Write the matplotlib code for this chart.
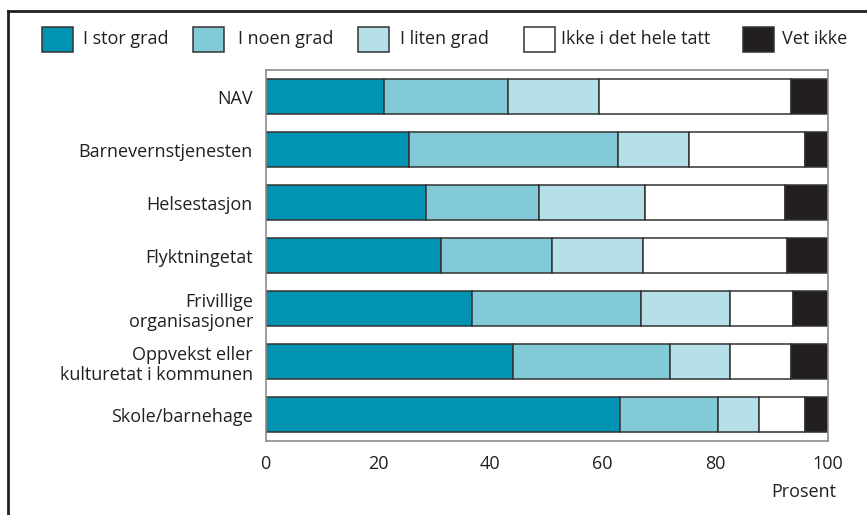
import matplotlib
matplotlib.use("Agg")
import matplotlib.pyplot as plt
from matplotlib.patches import Rectangle
from matplotlib.lines import Line2D
import numpy as np

plt.rcParams["font.family"] = ["Open Sans", "DejaVu Sans"]

# Data (percent), top to bottom
categories = [
    "NAV",
    "Barnevernstjenesten",
    "Helsestasjon",
    "Flyktningetat",
    "Frivillige\norganisasjoner",
    "Oppvekst eller\nkulturetat i kommunen",
    "Skole/barnehage",
]
stor_grad = [21.1, 25.6, 28.5, 31.3, 36.7, 44.0, 63.0]
noen_grad = [22.0, 37.1, 20.2, 19.6, 30.1, 28.0, 17.6]
liten_grad = [16.3, 12.6, 18.8, 16.2, 15.9, 10.7, 7.3]
ikke_tatt = [34.1, 20.7, 24.9, 25.7, 11.2, 10.8, 8.1]
vet_ikke = [6.5, 4.0, 7.6, 7.2, 6.1, 6.5, 4.0]

series_labels = ["I stor grad", "I noen grad", "I liten grad", "Ikke i det hele tatt", "Vet ikke"]
colors = ["#0093b2", "#83cad9", "#b5e0e8", "#ffffff", "#231f20"]
ticks = [0, 20, 40, 60, 80, 100]

TEXT = "#231f20"
EDGE = "#333333"
FS = 13
W, H = 867, 515

fig = plt.figure(figsize=(W / 100, H / 100), dpi=100)
ax = fig.add_axes([265.5 / W, 1 - 441 / H, 562 / W, 371 / H])

y = np.arange(len(categories))
left = np.zeros(len(categories))
for vals, col in zip([stor_grad, noen_grad, liten_grad, ikke_tatt, vet_ikke], colors):
    ax.barh(y, vals, left=left, height=0.66, color=col, edgecolor=EDGE, linewidth=1.1)
    left += np.array(vals)

ax.set_xlim(0, 100)
ax.set_ylim(len(categories) - 0.5, -0.5)
ax.set_yticks(y)
ax.set_yticklabels(categories, fontsize=FS, color=TEXT, linespacing=1.15)
ax.set_xticks(ticks)
ax.set_xticklabels([str(t) for t in ticks], fontsize=FS, color=TEXT)
ax.tick_params(length=0)
ax.tick_params(axis="y", pad=9)
ax.tick_params(axis="x", pad=10)
for sp in ax.spines.values():
    sp.set_color("#8c8c8c")
    sp.set_linewidth(1.2)

fig.text(836 / W, 1 - 492 / H, "Prosent", ha="right", va="center", fontsize=FS, color=TEXT)

# Legend row
box_x = [42, 193, 358, 524, 743]
txt_x = [83, 238, 400, 561, 782]
for bx, tx, lab, col in zip(box_x, txt_x, series_labels, colors):
    fig.add_artist(Rectangle((bx / W, 1 - 52 / H), 31 / W, 25 / H, transform=fig.transFigure,
                             facecolor=col, edgecolor=EDGE, linewidth=1.1))
    fig.text(tx / W, 1 - 39 / H, lab, ha="left", va="center", fontsize=FS, color=TEXT)

# Outer frame (left and top edges)
fig.add_artist(Line2D([8 / W, 8 / W], [0, 1 - 11 / H], transform=fig.transFigure, color=TEXT, lw=2))
fig.add_artist(Line2D([8 / W, 1], [1 - 11 / H, 1 - 11 / H], transform=fig.transFigure, color=TEXT, lw=2))

fig.savefig("out.png", dpi=100)
